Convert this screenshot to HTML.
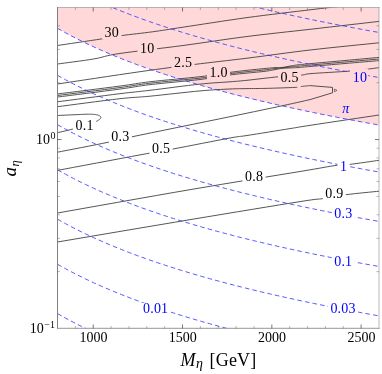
<!DOCTYPE html>
<html><head><meta charset="utf-8"><title>plot</title>
<style>html,body{margin:0;padding:0;background:#fff;}body{width:382px;height:374px;overflow:hidden;font-family:"Liberation Serif",serif;}svg{display:block;will-change:transform;}</style>
</head><body>
<svg width="382" height="374" viewBox="0 0 382 374" font-family="'Liberation Serif', serif">
<defs><clipPath id="clip"><rect x="57.5" y="7.5" width="321.5" height="321.0"/></clipPath></defs>
<path d="M57.50 7.50 L57.50 28.32 L61.50 30.59 L65.50 32.79 L69.50 34.94 L73.50 37.03 L77.50 39.07 L81.50 41.06 L85.50 43.00 L89.50 44.90 L93.50 46.76 L97.50 48.57 L101.50 50.35 L105.50 52.09 L109.50 53.79 L113.50 55.45 L117.50 57.09 L121.50 58.69 L125.50 60.26 L129.50 61.80 L133.50 63.32 L137.50 64.80 L141.50 66.26 L145.50 67.70 L149.50 69.11 L153.50 70.49 L157.50 71.85 L161.50 73.19 L165.50 74.51 L169.50 75.81 L173.50 77.09 L177.50 78.35 L181.50 79.59 L185.50 80.81 L189.50 82.01 L193.50 83.19 L197.50 84.36 L201.50 85.52 L205.50 86.65 L209.50 87.77 L213.50 88.88 L217.50 89.97 L221.50 91.04 L225.50 92.11 L229.50 93.16 L233.50 94.19 L237.50 95.22 L241.50 96.23 L245.50 97.22 L249.50 98.21 L253.50 99.18 L257.50 100.15 L261.50 101.10 L265.50 102.04 L269.50 102.97 L273.50 103.89 L277.50 104.80 L281.50 105.70 L285.50 106.59 L289.50 107.47 L293.50 108.34 L297.50 109.20 L301.50 110.05 L305.50 110.90 L309.50 111.73 L313.50 112.56 L317.50 113.38 L321.50 114.19 L325.50 114.99 L329.50 115.79 L333.50 116.57 L337.50 117.35 L341.50 118.13 L345.50 118.89 L349.50 119.65 L353.50 120.40 L357.50 121.15 L361.50 121.88 L365.50 122.61 L369.50 123.34 L373.50 124.06 L377.50 124.77 L379.00 125.03 L379.00 7.50 Z" fill="#ffd9d9" stroke="none"/>
<g fill="none" stroke="#383838" stroke-width="0.85" stroke-linejoin="miter" clip-path="url(#clip)">
<path d="M57.50 45.50 L61.01 44.98 L65.86 44.26 L71.64 43.40 L77.97 42.46 L84.46 41.50 L90.72 40.56 L96.37 39.71 L101.00 39.00 L104.59 38.43 L107.50 37.94 L109.91 37.52 L112.03 37.13 L114.05 36.77 L116.18 36.41 L118.59 36.02 L121.50 35.60 L124.88 35.15 L128.52 34.70 L132.38 34.24 L136.38 33.78 L140.45 33.30 L144.54 32.82 L148.58 32.32 L152.50 31.80 L156.11 31.30 L159.38 30.82 L162.50 30.35 L165.69 29.86 L169.13 29.33 L173.03 28.72 L177.59 28.02 L183.00 27.20 L189.40 26.23 L196.64 25.11 L204.55 23.89 L212.91 22.61 L221.53 21.30 L230.21 20.00 L238.77 18.75 L247.00 17.60 L255.26 16.50 L263.89 15.39 L272.67 14.30 L281.38 13.24 L289.78 12.23 L297.67 11.29 L304.82 10.44 L311.00 9.70 L316.19 9.07 L320.59 8.55 L324.32 8.12 L327.50 7.75 L330.24 7.44 L332.66 7.17 L334.87 6.93 L337.00 6.70 L338.92 6.50 L340.45 6.35 L341.67 6.24 L342.62 6.16 L343.38 6.11 L343.98 6.07 L344.51 6.04 L345.00 6.00"/>
<path d="M57.50 64.00 L60.35 63.62 L64.21 63.11 L68.82 62.51 L73.91 61.84 L79.19 61.12 L84.39 60.40 L89.26 59.68 L93.50 59.00 L96.93 58.36 L99.71 57.74 L102.14 57.12 L104.50 56.49 L107.08 55.84 L110.16 55.15 L114.04 54.41 L119.00 53.60 L125.16 52.72 L132.29 51.79 L140.18 50.80 L148.59 49.78 L157.31 48.72 L166.10 47.65 L174.74 46.57 L183.00 45.50 L191.00 44.41 L199.00 43.27 L207.00 42.12 L215.00 40.95 L223.00 39.79 L231.00 38.65 L239.00 37.55 L247.00 36.50 L254.97 35.51 L262.90 34.57 L270.82 33.66 L278.74 32.77 L286.70 31.90 L294.71 31.02 L302.80 30.12 L311.00 29.20 L319.78 28.20 L329.33 27.10 L339.23 25.97 L349.05 24.84 L358.37 23.78 L366.77 22.81 L373.82 22.01 L379.10 21.40"/>
<path d="M57.50 84.00 L64.06 83.02 L72.99 81.67 L83.65 80.06 L95.38 78.30 L107.52 76.48 L119.45 74.70 L130.49 73.08 L140.00 71.70 L148.12 70.55 L155.53 69.52 L162.38 68.59 L168.84 67.72 L175.08 66.91 L181.24 66.12 L187.49 65.32 L194.00 64.50 L200.60 63.68 L207.06 62.91 L213.46 62.16 L219.88 61.42 L226.36 60.67 L233.00 59.89 L239.86 59.08 L247.00 58.20 L254.45 57.25 L262.13 56.24 L270.01 55.18 L278.06 54.10 L286.22 53.01 L294.45 51.94 L302.73 50.89 L311.00 49.90 L319.78 48.91 L329.33 47.87 L339.23 46.84 L349.05 45.83 L358.37 44.89 L366.77 44.05 L373.82 43.34 L379.10 42.80"/>
<path d="M57.50 93.95 L62.45 93.33 L69.27 92.48 L77.40 91.47 L86.31 90.35 L95.47 89.21 L104.33 88.09 L112.35 87.06 L119.00 86.20 L124.20 85.49 L128.45 84.87 L132.02 84.32 L135.22 83.81 L138.32 83.32 L141.63 82.83 L145.42 82.31 L150.00 81.75 L155.48 81.14 L161.63 80.51 L168.24 79.87 L175.06 79.22 L181.88 78.57 L188.46 77.92 L194.58 77.30 L200.00 76.70 L204.80 76.11 L209.21 75.52 L213.29 74.94 L217.06 74.37 L220.58 73.82 L223.88 73.30 L227.01 72.83 L230.00 72.40 L232.74 72.03 L235.14 71.71 L237.28 71.44 L239.25 71.19 L241.12 70.97 L242.98 70.75 L244.92 70.53 L247.00 70.30 L249.26 70.05 L251.62 69.81 L254.03 69.56 L256.44 69.32 L258.79 69.10 L261.04 68.88 L263.13 68.68 L265.00 68.50 L266.65 68.34 L268.13 68.19 L269.47 68.06 L270.69 67.95 L271.82 67.84 L272.90 67.75 L273.95 67.67 L275.00 67.60 L276.01 67.55 L276.94 67.54 L277.80 67.54 L278.62 67.55 L279.43 67.56 L280.25 67.55 L281.10 67.52 L282.00 67.45 L282.95 67.34 L283.93 67.19 L284.93 67.03 L285.94 66.84 L286.96 66.65 L287.98 66.46 L288.99 66.27 L290.00 66.10 L290.97 65.94 L291.88 65.78 L292.78 65.62 L293.69 65.47 L294.63 65.31 L295.65 65.16 L296.76 65.01 L298.00 64.85 L299.24 64.71 L300.41 64.58 L301.59 64.46 L302.88 64.34 L304.37 64.20 L306.16 64.04 L308.34 63.84 L311.00 63.60 L314.24 63.30 L318.02 62.96 L322.21 62.57 L326.68 62.17 L331.32 61.74 L336.00 61.32 L340.60 60.90 L345.00 60.50 L349.49 60.09 L354.32 59.65 L359.28 59.20 L364.18 58.76 L368.81 58.34 L372.97 57.96 L376.47 57.64 L379.10 57.40"/>
<path d="M57.50 95.50 L62.45 94.88 L69.27 94.02 L77.40 93.00 L86.31 91.88 L95.47 90.73 L104.33 89.60 L112.35 88.57 L119.00 87.70 L124.20 86.98 L128.45 86.36 L132.02 85.80 L135.22 85.28 L138.32 84.79 L141.63 84.29 L145.42 83.77 L150.00 83.20 L155.48 82.59 L161.63 81.95 L168.24 81.30 L175.06 80.64 L181.88 79.99 L188.46 79.34 L194.58 78.71 L200.00 78.10 L204.80 77.50 L209.21 76.89 L213.29 76.29 L217.06 75.71 L220.58 75.14 L223.88 74.61 L227.01 74.13 L230.00 73.70 L232.74 73.33 L235.14 73.03 L237.28 72.77 L239.25 72.54 L241.12 72.33 L242.98 72.13 L244.92 71.92 L247.00 71.70 L249.26 71.46 L251.62 71.22 L254.03 70.99 L256.44 70.76 L258.79 70.53 L261.04 70.31 L263.13 70.10 L265.00 69.90 L266.65 69.71 L268.13 69.53 L269.47 69.35 L270.69 69.18 L271.82 69.02 L272.90 68.87 L273.95 68.73 L275.00 68.60 L276.01 68.49 L276.94 68.39 L277.80 68.30 L278.62 68.23 L279.43 68.15 L280.25 68.08 L281.10 67.99 L282.00 67.90 L282.95 67.80 L283.93 67.69 L284.93 67.57 L285.94 67.46 L286.96 67.34 L287.98 67.22 L288.99 67.11 L290.00 67.00 L290.97 66.90 L291.88 66.80 L292.78 66.71 L293.69 66.62 L294.63 66.52 L295.65 66.43 L296.76 66.32 L298.00 66.20 L299.24 66.08 L300.41 65.97 L301.59 65.86 L302.88 65.74 L304.37 65.60 L306.16 65.44 L308.34 65.24 L311.00 65.00 L314.24 64.71 L318.02 64.38 L322.21 64.01 L326.68 63.61 L331.32 63.20 L336.00 62.79 L340.60 62.39 L345.00 62.00 L349.49 61.60 L354.32 61.18 L359.28 60.74 L364.18 60.31 L368.81 59.91 L372.97 59.54 L376.47 59.23 L379.10 59.00"/>
<path d="M57.50 97.05 L62.45 96.42 L69.27 95.56 L77.40 94.54 L86.31 93.41 L95.47 92.25 L104.33 91.11 L112.35 90.08 L119.00 89.20 L124.20 88.48 L128.45 87.84 L132.02 87.28 L135.22 86.76 L138.32 86.26 L141.63 85.75 L145.42 85.22 L150.00 84.65 L155.48 84.03 L161.63 83.39 L168.24 82.73 L175.06 82.07 L181.88 81.41 L188.46 80.76 L194.58 80.12 L200.00 79.50 L204.80 78.89 L209.21 78.27 L213.29 77.65 L217.06 77.05 L220.58 76.47 L223.88 75.93 L227.01 75.43 L230.00 75.00 L232.74 74.64 L235.14 74.34 L237.28 74.09 L239.25 73.88 L241.12 73.69 L242.98 73.51 L244.92 73.31 L247.00 73.10 L249.26 72.87 L251.62 72.64 L254.03 72.41 L256.44 72.19 L258.79 71.96 L261.04 71.74 L263.13 71.52 L265.00 71.30 L266.65 71.08 L268.13 70.86 L269.47 70.64 L270.69 70.42 L271.82 70.20 L272.90 69.99 L273.95 69.79 L275.00 69.60 L276.01 69.42 L276.94 69.24 L277.80 69.06 L278.62 68.90 L279.43 68.74 L280.25 68.60 L281.10 68.46 L282.00 68.35 L282.95 68.25 L283.93 68.18 L284.93 68.12 L285.94 68.07 L286.96 68.03 L287.98 67.99 L288.99 67.95 L290.00 67.90 L290.97 67.86 L291.88 67.82 L292.78 67.80 L293.69 67.77 L294.63 67.74 L295.65 67.69 L296.76 67.63 L298.00 67.55 L299.24 67.46 L300.41 67.36 L301.59 67.25 L302.88 67.13 L304.37 66.99 L306.16 66.83 L308.34 66.63 L311.00 66.40 L314.24 66.12 L318.02 65.80 L322.21 65.44 L326.68 65.06 L331.32 64.66 L336.00 64.27 L340.60 63.87 L345.00 63.50 L349.49 63.12 L354.32 62.71 L359.28 62.29 L364.18 61.87 L368.81 61.48 L372.97 61.12 L376.47 60.82 L379.10 60.60"/>
<path d="M57.50 101.80 L62.45 101.15 L69.27 100.26 L77.40 99.19 L86.31 98.02 L95.47 96.82 L104.33 95.67 L112.35 94.64 L119.00 93.80 L124.20 93.17 L128.45 92.67 L132.02 92.28 L135.22 91.94 L138.32 91.61 L141.63 91.26 L145.42 90.84 L150.00 90.30 L155.48 89.63 L161.63 88.85 L168.24 88.00 L175.06 87.12 L181.88 86.26 L188.46 85.44 L194.58 84.71 L200.00 84.10 L204.80 83.62 L209.21 83.23 L213.29 82.92 L217.06 82.66 L220.58 82.43 L223.88 82.23 L227.01 82.02 L230.00 81.80 L232.65 81.59 L234.84 81.42 L236.71 81.27 L238.44 81.12 L240.17 80.97 L242.07 80.80 L244.29 80.58 L247.00 80.30 L250.26 79.95 L253.94 79.52 L257.93 79.05 L262.09 78.56 L266.31 78.07 L270.45 77.60 L274.39 77.17 L278.00 76.80 L281.39 76.50 L284.73 76.24 L287.98 76.02 L291.09 75.82 L294.04 75.64 L296.79 75.47 L299.28 75.29 L301.50 75.10 L303.17 74.91 L304.21 74.73 L304.88 74.56 L305.41 74.39 L306.04 74.22 L307.02 74.03 L308.59 73.83 L311.00 73.60 L314.42 73.34 L318.70 73.06 L323.58 72.76 L328.81 72.44 L334.12 72.12 L339.26 71.81 L343.97 71.50 L348.00 71.20 L351.43 70.91 L354.54 70.62 L357.37 70.33 L359.96 70.04 L362.34 69.76 L364.54 69.49 L366.62 69.24 L368.60 69.00 L370.47 68.78 L372.18 68.56 L373.74 68.35 L375.14 68.16 L376.38 67.99 L377.45 67.83 L378.36 67.70 L379.10 67.60"/>
<path d="M57.50 106.70 L62.45 106.05 L69.27 105.16 L77.40 104.08 L86.31 102.91 L95.47 101.72 L104.33 100.59 L112.35 99.59 L119.00 98.80 L124.20 98.24 L128.45 97.84 L132.02 97.56 L135.22 97.34 L138.32 97.14 L141.63 96.92 L145.42 96.62 L150.00 96.20 L155.48 95.64 L161.63 94.99 L168.24 94.26 L175.06 93.51 L181.88 92.76 L188.46 92.05 L194.58 91.42 L200.00 90.90 L204.80 90.49 L209.21 90.15 L213.29 89.87 L217.06 89.64 L220.58 89.45 L223.88 89.29 L227.01 89.14 L230.00 89.00 L232.74 88.88 L235.14 88.79 L237.28 88.73 L239.25 88.69 L241.12 88.67 L242.98 88.65 L244.92 88.63 L247.00 88.60 L249.19 88.57 L251.38 88.55 L253.59 88.53 L255.81 88.51 L258.06 88.50 L260.34 88.47 L262.65 88.44 L265.00 88.40 L267.46 88.34 L270.04 88.28 L272.69 88.20 L275.36 88.12 L277.98 88.04 L280.49 87.95 L282.85 87.87 L285.00 87.80 L286.99 87.73 L288.90 87.66 L290.72 87.58 L292.40 87.51 L293.93 87.45 L295.27 87.39 L296.40 87.34 L297.30 87.30"/>
<path d="M57.50 115.50 L58.88 115.44 L60.74 115.35 L62.96 115.25 L65.41 115.13 L67.96 115.01 L70.50 114.90 L72.88 114.79 L75.00 114.70 L76.93 114.62 L78.82 114.54 L80.66 114.46 L82.44 114.38 L84.13 114.32 L85.71 114.26 L87.17 114.22 L88.50 114.20 L89.66 114.19 L90.68 114.20 L91.56 114.22 L92.34 114.26 L93.05 114.30 L93.71 114.36 L94.35 114.42 L95.00 114.50 L95.63 114.59 L96.23 114.68 L96.78 114.79 L97.29 114.91 L97.77 115.04 L98.21 115.18 L98.62 115.34 L99.00 115.50 L99.35 115.68 L99.67 115.87 L99.96 116.07 L100.21 116.29 L100.43 116.51 L100.60 116.74 L100.72 116.97 L100.80 117.20 L100.83 117.43 L100.81 117.67 L100.75 117.91 L100.65 118.16 L100.50 118.41 L100.31 118.66 L100.08 118.93 L99.80 119.20 L99.46 119.48 L99.05 119.78 L98.59 120.09 L98.09 120.41 L97.56 120.72 L97.03 121.03 L96.50 121.32 L96.00 121.60 L95.60 121.84 L95.32 122.04 L95.09 122.21 L94.83 122.39 L94.46 122.58 L93.92 122.82 L93.12 123.12 L92.00 123.50 L90.50 123.98 L88.68 124.55 L86.60 125.18 L84.34 125.86 L81.98 126.55 L79.59 127.23 L77.24 127.89 L75.00 128.50 L72.72 129.09 L70.25 129.70 L67.71 130.32 L65.19 130.91 L62.80 131.47 L60.66 131.96 L58.85 132.38 L57.50 132.70"/>
<path d="M57.50 170.40 L64.20 169.14 L73.48 167.39 L84.57 165.30 L96.69 163.02 L109.06 160.69 L120.92 158.46 L131.49 156.48 L140.00 154.90 L146.33 153.74 L151.17 152.87 L154.95 152.21 L158.09 151.67 L161.04 151.16 L164.22 150.61 L168.06 149.92 L173.00 149.00 L179.25 147.81 L186.50 146.41 L194.38 144.88 L202.50 143.29 L210.50 141.73 L218.00 140.27 L224.62 139.00 L230.00 138.00 L233.86 137.31 L236.45 136.88 L238.16 136.63 L239.38 136.49 L240.48 136.39 L241.86 136.24 L243.90 135.96 L247.00 135.50 L251.28 134.82 L256.44 134.00 L262.19 133.08 L268.25 132.11 L274.34 131.12 L280.19 130.18 L285.50 129.33 L290.00 128.60 L293.36 128.05 L295.69 127.66 L297.42 127.37 L298.93 127.11 L300.64 126.82 L302.95 126.45 L306.27 125.93 L311.00 125.20 L317.72 124.18 L326.31 122.89 L336.08 121.42 L346.36 119.89 L356.48 118.38 L365.76 116.99 L373.52 115.83 L379.10 115.00"/>
<path d="M57.50 213.00 L67.97 211.15 L82.06 208.65 L98.86 205.67 L117.44 202.38 L136.87 198.94 L156.22 195.54 L174.57 192.33 L191.00 189.50 L206.30 186.91 L221.68 184.33 L236.88 181.82 L251.59 179.41 L265.55 177.14 L278.46 175.03 L290.04 173.14 L300.00 171.50 L308.15 170.13 L314.67 169.02 L319.86 168.11 L324.00 167.38 L327.39 166.78 L330.33 166.28 L333.10 165.83 L336.00 165.40 L338.61 165.06 L340.47 164.89 L341.81 164.83 L342.87 164.83 L343.88 164.85 L345.09 164.84 L346.71 164.73 L349.00 164.50 L352.15 164.10 L356.03 163.58 L360.36 162.98 L364.86 162.34 L369.27 161.71 L373.29 161.13 L376.66 160.65 L379.10 160.30"/>
<path d="M57.50 242.00 L67.97 240.23 L82.06 237.85 L98.86 235.01 L117.44 231.87 L136.87 228.59 L156.22 225.33 L174.57 222.25 L191.00 219.50 L206.39 216.94 L221.99 214.35 L237.45 211.80 L252.41 209.33 L266.50 207.02 L279.37 204.92 L290.66 203.09 L300.00 201.60 L306.99 200.52 L311.80 199.82 L314.92 199.42 L316.88 199.22 L318.15 199.14 L319.27 199.06 L320.71 198.92 L323.00 198.60 L325.81 198.15 L328.51 197.68 L331.18 197.19 L333.87 196.68 L336.64 196.17 L339.54 195.67 L342.64 195.17 L346.00 194.70 L349.88 194.22 L354.34 193.71 L359.13 193.20 L363.99 192.71 L368.67 192.24 L372.92 191.82 L376.48 191.47 L379.10 191.20"/>
<path d="M310.00 85.60 L332.50 87.40 L332.50 92.80 L310.00 99.60"/>
<path d="M310.00 99.60 L308.09 100.03 L305.76 100.56 L303.00 101.19 L299.81 101.91 L296.22 102.71 L292.21 103.60 L287.80 104.56 L283.00 105.60 L277.93 106.68 L272.66 107.80 L267.05 108.98 L261.00 110.26 L254.39 111.64 L247.09 113.16 L239.00 114.84 L230.00 116.70 L219.31 118.90 L206.70 121.48 L192.90 124.30 L178.62 127.21 L164.58 130.08 L151.48 132.76 L140.05 135.12 L131.00 137.00 L124.68 138.35 L120.55 139.27 L118.02 139.88 L116.47 140.30 L115.30 140.63 L113.90 141.00 L111.67 141.52 L108.00 142.30 L102.66 143.39 L96.12 144.68 L88.86 146.11 L81.31 147.58 L73.95 149.01 L67.22 150.31 L61.58 151.40 L57.50 152.20"/>
<path d="M334.30 89.10 L337.00 90.30 L334.60 91.80 L334.30 89.10" stroke-width="0.6"/>
<path d="M300.80 86.60 L301.12 86.56 L301.54 86.51 L302.03 86.45 L302.59 86.38 L303.18 86.31 L303.80 86.24 L304.41 86.17 L305.00 86.10 L305.62 86.03 L306.31 85.96 L307.04 85.89 L307.76 85.82 L308.46 85.75 L309.08 85.69 L309.61 85.64 L310.00 85.60"/>
</g>
<g fill="none" stroke="#3a3aff" stroke-width="0.85" stroke-dasharray="4.6 3.1" clip-path="url(#clip)">
<path d="M57.50 -64.26 L61.50 -61.99 L65.50 -59.79 L69.50 -57.64 L73.50 -55.55 L77.50 -53.51 L81.50 -51.52 L85.50 -49.57 L89.50 -47.67 L93.50 -45.82 L97.50 -44.00 L101.50 -42.23 L105.50 -40.49 L109.50 -38.79 L113.50 -37.12 L117.50 -35.49 L121.50 -33.89 L125.50 -32.32 L129.50 -30.77 L133.50 -29.26 L137.50 -27.77 L141.50 -26.31 L145.50 -24.88 L149.50 -23.47 L153.50 -22.09 L157.50 -20.72 L161.50 -19.38 L165.50 -18.06 L169.50 -16.77 L173.50 -15.49 L177.50 -14.23 L181.50 -12.99 L185.50 -11.77 L189.50 -10.57 L193.50 -9.38 L197.50 -8.21 L201.50 -7.06 L205.50 -5.93 L209.50 -4.80 L213.50 -3.70 L217.50 -2.61 L221.50 -1.53 L225.50 -0.47 L229.50 0.58 L233.50 1.62 L237.50 2.64 L241.50 3.65 L245.50 4.65 L249.50 5.63 L253.50 6.61 L257.50 7.57 L261.50 8.52 L265.50 9.46 L269.50 10.39 L273.50 11.31 L277.50 12.22 L281.50 13.12 L285.50 14.01 L289.50 14.89 L293.50 15.76 L297.50 16.62 L301.50 17.48 L305.50 18.32 L309.50 19.16 L313.50 19.98 L317.50 20.80 L321.50 21.61 L325.50 22.41 L329.50 23.21 L333.50 24.00 L337.50 24.78 L341.50 25.55 L345.50 26.31 L349.50 27.07 L353.50 27.82 L357.50 28.57 L361.50 29.31 L365.50 30.04 L369.50 30.76 L373.50 31.48 L377.50 32.19 L379.00 32.46"/>
<path d="M57.50 -19.18 L61.50 -16.92 L65.50 -14.71 L69.50 -12.57 L73.50 -10.47 L77.50 -8.43 L81.50 -6.44 L85.50 -4.50 L89.50 -2.60 L93.50 -0.75 L97.50 1.07 L101.50 2.84 L105.50 4.58 L109.50 6.28 L113.50 7.95 L117.50 9.58 L121.50 11.19 L125.50 12.76 L129.50 14.30 L133.50 15.81 L137.50 17.30 L141.50 18.76 L145.50 20.19 L149.50 21.60 L153.50 22.99 L157.50 24.35 L161.50 25.69 L165.50 27.01 L169.50 28.31 L173.50 29.58 L177.50 30.84 L181.50 32.08 L185.50 33.30 L189.50 34.51 L193.50 35.69 L197.50 36.86 L201.50 38.01 L205.50 39.15 L209.50 40.27 L213.50 41.37 L217.50 42.46 L221.50 43.54 L225.50 44.60 L229.50 45.65 L233.50 46.69 L237.50 47.71 L241.50 48.72 L245.50 49.72 L249.50 50.71 L253.50 51.68 L257.50 52.64 L261.50 53.59 L265.50 54.54 L269.50 55.47 L273.50 56.38 L277.50 57.29 L281.50 58.19 L285.50 59.08 L289.50 59.96 L293.50 60.83 L297.50 61.70 L301.50 62.55 L305.50 63.39 L309.50 64.23 L313.50 65.06 L317.50 65.87 L321.50 66.69 L325.50 67.49 L329.50 68.28 L333.50 69.07 L337.50 69.85 L341.50 70.62 L345.50 71.39 L349.50 72.15 L353.50 72.90 L357.50 73.64 L361.50 74.38 L365.50 75.11 L369.50 75.84 L373.50 76.55 L377.50 77.27 L379.00 77.53"/>
<path d="M57.50 28.32 L61.50 30.59 L65.50 32.79 L69.50 34.94 L73.50 37.03 L77.50 39.07 L81.50 41.06 L85.50 43.00 L89.50 44.90 L93.50 46.76 L97.50 48.57 L101.50 50.35 L105.50 52.09 L109.50 53.79 L113.50 55.45 L117.50 57.09 L121.50 58.69 L125.50 60.26 L129.50 61.80 L133.50 63.32 L137.50 64.80 L141.50 66.26 L145.50 67.70 L149.50 69.11 L153.50 70.49 L157.50 71.85 L161.50 73.19 L165.50 74.51 L169.50 75.81 L173.50 77.09 L177.50 78.35 L181.50 79.59 L185.50 80.81 L189.50 82.01 L193.50 83.19 L197.50 84.36 L201.50 85.52 L205.50 86.65 L209.50 87.77 L213.50 88.88 L217.50 89.97 L221.50 91.04 L225.50 92.11 L229.50 93.16 L233.50 94.19 L237.50 95.22 L241.50 96.23 L245.50 97.22 L249.50 98.21 L253.50 99.18 L257.50 100.15 L261.50 101.10 L265.50 102.04 L269.50 102.97 L273.50 103.89 L277.50 104.80 L281.50 105.70 L285.50 106.59 L289.50 107.47 L293.50 108.34 L297.50 109.20 L301.50 110.05 L305.50 110.90 L309.50 111.73 L313.50 112.56 L317.50 113.38 L321.50 114.19 L325.50 114.99 L329.50 115.79 L333.50 116.57 L337.50 117.35 L341.50 118.13 L345.50 118.89 L349.50 119.65 L353.50 120.40 L357.50 121.15 L361.50 121.88 L365.50 122.61 L369.50 123.34 L373.50 124.06 L377.50 124.77 L379.00 125.04"/>
<path d="M57.50 75.29 L61.50 77.55 L65.50 79.76 L69.50 81.90 L73.50 84.00 L77.50 86.04 L81.50 88.03 L85.50 89.97 L89.50 91.87 L93.50 93.72 L97.50 95.54 L101.50 97.31 L105.50 99.05 L109.50 100.75 L113.50 102.42 L117.50 104.05 L121.50 105.66 L125.50 107.23 L129.50 108.77 L133.50 110.28 L137.50 111.77 L141.50 113.23 L145.50 114.66 L149.50 116.07 L153.50 117.46 L157.50 118.82 L161.50 120.16 L165.50 121.48 L169.50 122.78 L173.50 124.05 L177.50 125.31 L181.50 126.55 L185.50 127.77 L189.50 128.97 L193.50 130.16 L197.50 131.33 L201.50 132.48 L205.50 133.62 L209.50 134.74 L213.50 135.84 L217.50 136.93 L221.50 138.01 L225.50 139.07 L229.50 140.12 L233.50 141.16 L237.50 142.18 L241.50 143.19 L245.50 144.19 L249.50 145.17 L253.50 146.15 L257.50 147.11 L261.50 148.06 L265.50 149.00 L269.50 149.93 L273.50 150.85 L277.50 151.76 L281.50 152.66 L285.50 153.55 L289.50 154.43 L293.50 155.30 L297.50 156.17 L301.50 157.02 L305.50 157.86 L309.50 158.70 L313.50 159.52 L317.50 160.34 L321.50 161.15 L325.50 161.96 L329.50 162.75 L333.50 163.54 L337.50 164.32 L341.50 165.09 L345.50 165.86 L349.50 166.61 L353.50 167.37 L357.50 168.11 L361.50 168.85 L365.50 169.58 L369.50 170.30 L373.50 171.02 L377.50 171.73 L379.00 172.00"/>
<path d="M57.50 124.68 L61.50 126.95 L65.50 129.15 L69.50 131.30 L73.50 133.39 L77.50 135.43 L81.50 137.42 L85.50 139.37 L89.50 141.26 L93.50 143.12 L97.50 144.93 L101.50 146.71 L105.50 148.45 L109.50 150.15 L113.50 151.82 L117.50 153.45 L121.50 155.05 L125.50 156.62 L129.50 158.16 L133.50 159.68 L137.50 161.16 L141.50 162.62 L145.50 164.06 L149.50 165.47 L153.50 166.85 L157.50 168.21 L161.50 169.56 L165.50 170.87 L169.50 172.17 L173.50 173.45 L177.50 174.71 L181.50 175.95 L185.50 177.17 L189.50 178.37 L193.50 179.56 L197.50 180.72 L201.50 181.88 L205.50 183.01 L209.50 184.13 L213.50 185.24 L217.50 186.33 L221.50 187.41 L225.50 188.47 L229.50 189.52 L233.50 190.55 L237.50 191.58 L241.50 192.59 L245.50 193.58 L249.50 194.57 L253.50 195.54 L257.50 196.51 L261.50 197.46 L265.50 198.40 L269.50 199.33 L273.50 200.25 L277.50 201.16 L281.50 202.06 L285.50 202.95 L289.50 203.83 L293.50 204.70 L297.50 205.56 L301.50 206.41 L305.50 207.26 L309.50 208.09 L313.50 208.92 L317.50 209.74 L321.50 210.55 L325.50 211.35 L329.50 212.15 L333.50 212.93 L337.50 213.71 L341.50 214.49 L345.50 215.25 L349.50 216.01 L353.50 216.76 L357.50 217.51 L361.50 218.24 L365.50 218.98 L369.50 219.70 L373.50 220.42 L377.50 221.13 L379.00 221.40"/>
<path d="M57.50 169.76 L61.50 172.02 L65.50 174.23 L69.50 176.37 L73.50 178.46 L77.50 180.50 L81.50 182.49 L85.50 184.44 L89.50 186.34 L93.50 188.19 L97.50 190.01 L101.50 191.78 L105.50 193.52 L109.50 195.22 L113.50 196.89 L117.50 198.52 L121.50 200.12 L125.50 201.70 L129.50 203.24 L133.50 204.75 L137.50 206.24 L141.50 207.70 L145.50 209.13 L149.50 210.54 L153.50 211.93 L157.50 213.29 L161.50 214.63 L165.50 215.95 L169.50 217.25 L173.50 218.52 L177.50 219.78 L181.50 221.02 L185.50 222.24 L189.50 223.44 L193.50 224.63 L197.50 225.80 L201.50 226.95 L205.50 228.09 L209.50 229.21 L213.50 230.31 L217.50 231.40 L221.50 232.48 L225.50 233.54 L229.50 234.59 L233.50 235.63 L237.50 236.65 L241.50 237.66 L245.50 238.66 L249.50 239.64 L253.50 240.62 L257.50 241.58 L261.50 242.53 L265.50 243.47 L269.50 244.40 L273.50 245.32 L277.50 246.23 L281.50 247.13 L285.50 248.02 L289.50 248.90 L293.50 249.77 L297.50 250.63 L301.50 251.49 L305.50 252.33 L309.50 253.17 L313.50 253.99 L317.50 254.81 L321.50 255.62 L325.50 256.43 L329.50 257.22 L333.50 258.01 L337.50 258.79 L341.50 259.56 L345.50 260.33 L349.50 261.08 L353.50 261.84 L357.50 262.58 L361.50 263.32 L365.50 264.05 L369.50 264.77 L373.50 265.49 L377.50 266.20 L379.00 266.47"/>
<path d="M57.50 219.15 L61.50 221.42 L65.50 223.62 L69.50 225.77 L73.50 227.86 L77.50 229.90 L81.50 231.89 L85.50 233.83 L89.50 235.73 L93.50 237.59 L97.50 239.40 L101.50 241.18 L105.50 242.92 L109.50 244.62 L113.50 246.28 L117.50 247.92 L121.50 249.52 L125.50 251.09 L129.50 252.63 L133.50 254.15 L137.50 255.63 L141.50 257.09 L145.50 258.53 L149.50 259.94 L153.50 261.32 L157.50 262.68 L161.50 264.02 L165.50 265.34 L169.50 266.64 L173.50 267.92 L177.50 269.18 L181.50 270.42 L185.50 271.64 L189.50 272.84 L193.50 274.02 L197.50 275.19 L201.50 276.35 L205.50 277.48 L209.50 278.60 L213.50 279.71 L217.50 280.80 L221.50 281.87 L225.50 282.94 L229.50 283.99 L233.50 285.02 L237.50 286.05 L241.50 287.06 L245.50 288.05 L249.50 289.04 L253.50 290.01 L257.50 290.98 L261.50 291.93 L265.50 292.87 L269.50 293.80 L273.50 294.72 L277.50 295.63 L281.50 296.53 L285.50 297.42 L289.50 298.30 L293.50 299.17 L297.50 300.03 L301.50 300.88 L305.50 301.73 L309.50 302.56 L313.50 303.39 L317.50 304.21 L321.50 305.02 L325.50 305.82 L329.50 306.62 L333.50 307.40 L337.50 308.18 L341.50 308.96 L345.50 309.72 L349.50 310.48 L353.50 311.23 L357.50 311.98 L361.50 312.71 L365.50 313.44 L369.50 314.17 L373.50 314.89 L377.50 315.60 L379.00 315.87"/>
<path d="M57.50 264.22 L61.50 266.49 L65.50 268.69 L69.50 270.84 L73.50 272.93 L77.50 274.97 L81.50 276.96 L85.50 278.91 L89.50 280.81 L93.50 282.66 L97.50 284.48 L101.50 286.25 L105.50 287.99 L109.50 289.69 L113.50 291.36 L117.50 292.99 L121.50 294.59 L125.50 296.16 L129.50 297.71 L133.50 299.22 L137.50 300.71 L141.50 302.17 L145.50 303.60 L149.50 305.01 L153.50 306.39 L157.50 307.76 L161.50 309.10 L165.50 310.42 L169.50 311.71 L173.50 312.99 L177.50 314.25 L181.50 315.49 L185.50 316.71 L189.50 317.91 L193.50 319.10 L197.50 320.27 L201.50 321.42 L205.50 322.55 L209.50 323.68 L213.50 324.78 L217.50 325.87 L221.50 326.95 L225.50 328.01 L229.50 329.06 L233.50 330.10 L237.50 331.12 L241.50 332.13 L245.50 333.13 L249.50 334.11 L253.50 335.09 L257.50 336.05 L261.50 337.00 L265.50 337.94 L269.50 338.87 L273.50 339.79 L277.50 340.70 L281.50 341.60 L285.50 342.49 L289.50 343.37 L293.50 344.24 L297.50 345.10 L301.50 345.96 L305.50 346.80 L309.50 347.64 L313.50 348.46 L317.50 349.28 L321.50 350.09 L325.50 350.89 L329.50 351.69 L333.50 352.48 L337.50 353.26 L341.50 354.03 L345.50 354.79 L349.50 355.55 L353.50 356.30 L357.50 357.05 L361.50 357.79 L365.50 358.52 L369.50 359.24 L373.50 359.96 L377.50 360.67 L379.00 360.94"/>
<path d="M57.50 313.62 L61.50 315.89 L65.50 318.09 L69.50 320.24 L73.50 322.33 L77.50 324.37 L81.50 326.36 L85.50 328.30 L89.50 330.20 L93.50 332.06 L97.50 333.87 L101.50 335.65 L105.50 337.38 L109.50 339.09 L113.50 340.75 L117.50 342.39 L121.50 343.99 L125.50 345.56 L129.50 347.10 L133.50 348.62 L137.50 350.10 L141.50 351.56 L145.50 353.00 L149.50 354.40 L153.50 355.79 L157.50 357.15 L161.50 358.49 L165.50 359.81 L169.50 361.11 L173.50 362.39 L177.50 363.65 L181.50 364.88 L185.50 366.11 L189.50 367.31 L193.50 368.49 L197.50 369.66 L201.50 370.81 L205.50 371.95 L209.50 373.07 L213.50 374.18 L217.50 375.27 L221.50 376.34 L225.50 377.41 L229.50 378.46 L233.50 379.49 L237.50 380.51 L241.50 381.52 L245.50 382.52 L249.50 383.51 L253.50 384.48 L257.50 385.45 L261.50 386.40 L265.50 387.34 L269.50 388.27 L273.50 389.19 L277.50 390.10 L281.50 391.00 L285.50 391.89 L289.50 392.77 L293.50 393.64 L297.50 394.50 L301.50 395.35 L305.50 396.20 L309.50 397.03 L313.50 397.86 L317.50 398.68 L321.50 399.49 L325.50 400.29 L329.50 401.09 L333.50 401.87 L337.50 402.65 L341.50 403.43 L345.50 404.19 L349.50 404.95 L353.50 405.70 L357.50 406.44 L361.50 407.18 L365.50 407.91 L369.50 408.64 L373.50 409.36 L377.50 410.07 L379.00 410.33"/>
</g>
<rect x="102.1" y="26.9" width="19.4" height="12.6" fill="#ffd9d9"/>
<text x="104.6" y="37.0" font-size="14" fill="#000" letter-spacing="0.2">30</text>
<rect x="137.5" y="42.9" width="19.4" height="12.6" fill="#ffd9d9"/>
<text x="140.0" y="53.0" font-size="14" fill="#000" letter-spacing="0.2">10</text>
<rect x="171.5" y="56.4" width="23.1" height="12.6" fill="#ffd9d9"/>
<text x="174.0" y="66.5" font-size="14" fill="#000" letter-spacing="0.2">2.5</text>
<rect x="207.0" y="66.8" width="23.1" height="12.6" fill="#ffd9d9"/>
<text x="209.5" y="76.9" font-size="14" fill="#000" letter-spacing="0.2">1.0</text>
<rect x="278.0" y="71.9" width="23.1" height="12.6" fill="#ffd9d9"/>
<text x="280.5" y="82.0" font-size="14" fill="#000" letter-spacing="0.2">0.5</text>
<rect x="73.0" y="119.9" width="23.1" height="12.6" fill="#fff"/>
<text x="75.5" y="130.0" font-size="14" fill="#000" letter-spacing="0.2">0.1</text>
<rect x="108.8" y="130.9" width="23.1" height="12.6" fill="#fff"/>
<text x="111.3" y="141.0" font-size="14" fill="#000" letter-spacing="0.2">0.3</text>
<rect x="149.5" y="142.9" width="23.1" height="12.6" fill="#fff"/>
<text x="152.0" y="153.0" font-size="14" fill="#000" letter-spacing="0.2">0.5</text>
<rect x="242.5" y="171.1" width="23.1" height="12.6" fill="#fff"/>
<text x="245.0" y="181.2" font-size="14" fill="#000" letter-spacing="0.2">0.8</text>
<rect x="322.8" y="187.9" width="23.1" height="12.6" fill="#fff"/>
<text x="325.3" y="198.0" font-size="14" fill="#000" letter-spacing="0.2">0.9</text>
<rect x="350.0" y="68.5" width="18.3" height="15.5" fill="#ffd9d9"/>
<text x="352.7" y="81.5" font-size="14" fill="#0000ff" letter-spacing="0.2">10</text>
<rect x="339.8" y="102.9" width="13.0" height="12.6" fill="#ffd9d9"/>
<text x="342.3" y="113.0" font-size="14" fill="#0000ff" letter-spacing="0.2" font-style="italic">π</text>
<rect x="337.5" y="161.1" width="12.2" height="12.6" fill="#fff"/>
<text x="340.0" y="171.2" font-size="14" fill="#0000ff" letter-spacing="0.2">1</text>
<rect x="331.8" y="208.3" width="23.1" height="12.6" fill="#fff"/>
<text x="334.3" y="218.4" font-size="14" fill="#0000ff" letter-spacing="0.2">0.3</text>
<rect x="331.7" y="255.9" width="23.1" height="12.6" fill="#fff"/>
<text x="334.2" y="266.0" font-size="14" fill="#0000ff" letter-spacing="0.2">0.1</text>
<rect x="327.9" y="302.9" width="30.3" height="12.6" fill="#fff"/>
<text x="330.4" y="313.0" font-size="14" fill="#0000ff" letter-spacing="0.2">0.03</text>
<rect x="140.5" y="302.9" width="30.3" height="12.6" fill="#fff"/>
<text x="143.0" y="313.0" font-size="14" fill="#0000ff" letter-spacing="0.2">0.01</text>
<g fill="none">
<path d="M57.50 7.00V328.80" stroke="#808080" stroke-width="1"/>
<path d="M57.00 328.30H379.50" stroke="#989898" stroke-width="1"/>
<path d="M57.00 7.50H379.50" stroke="#808080" stroke-opacity="0.55" stroke-width="1"/>
<path d="M379.00 7.00V328.80" stroke="#808080" stroke-opacity="0.55" stroke-width="1"/>
<path d="M75.36 328.50v-2.5M75.36 7.50v2.5M111.08 328.50v-2.5M111.08 7.50v2.5M128.94 328.50v-2.5M128.94 7.50v2.5M146.81 328.50v-2.5M146.81 7.50v2.5M164.67 328.50v-2.5M164.67 7.50v2.5M200.39 328.50v-2.5M200.39 7.50v2.5M218.25 328.50v-2.5M218.25 7.50v2.5M236.11 328.50v-2.5M236.11 7.50v2.5M253.97 328.50v-2.5M253.97 7.50v2.5M289.69 328.50v-2.5M289.69 7.50v2.5M307.56 328.50v-2.5M307.56 7.50v2.5M325.42 328.50v-2.5M325.42 7.50v2.5M343.28 328.50v-2.5M343.28 7.50v2.5M57.50 271.62h2.5M379.00 271.62h-2.5M57.50 238.35h2.5M379.00 238.35h-2.5M57.50 214.75h2.5M379.00 214.75h-2.5M57.50 196.44h2.5M379.00 196.44h-2.5M57.50 181.48h2.5M379.00 181.48h-2.5M57.50 168.83h2.5M379.00 168.83h-2.5M57.50 157.87h2.5M379.00 157.87h-2.5M57.50 148.21h2.5M379.00 148.21h-2.5M57.50 82.69h2.5M379.00 82.69h-2.5M57.50 49.42h2.5M379.00 49.42h-2.5M57.50 25.81h2.5M379.00 25.81h-2.5" stroke="#555" stroke-opacity="0.7" stroke-width="0.6"/>
<path d="M93.22 328.50v-4.0M93.22 7.50v4.0M182.53 328.50v-4.0M182.53 7.50v4.0M271.83 328.50v-4.0M271.83 7.50v4.0M361.14 328.50v-4.0M361.14 7.50v4.0M57.50 139.56h4.0M379.00 139.56h-4.0" stroke="#444" stroke-opacity="0.9" stroke-width="0.8"/>
</g>
<text x="93.5" y="341.7" font-size="14" text-anchor="middle">1000</text>
<text x="182.8" y="341.7" font-size="14" text-anchor="middle">1500</text>
<text x="272.1" y="341.7" font-size="14" text-anchor="middle">2000</text>
<text x="361.4" y="341.7" font-size="14" text-anchor="middle">2500</text>
<text x="36" y="144.3" font-size="14">10<tspan dy="-5.2" dx="0.6" font-size="10">0</tspan></text>
<text x="29.7" y="333.2" font-size="14">10<tspan dy="-4.9" dx="0.6" font-size="10">−1</tspan></text>
<text x="180.5" y="366.3" font-size="18"><tspan font-style="italic">M</tspan><tspan font-style="italic" font-size="14" dy="2.0" dx="0.6">η</tspan><tspan dy="-2.0" dx="1.6" letter-spacing="0.25"> [GeV]</tspan></text>
<text transform="translate(15.5,176.5) rotate(-90)" font-size="19"><tspan font-style="italic">a</tspan><tspan font-style="italic" font-size="12.5" dy="3" dx="0.5">η</tspan></text>
</svg>
</body></html>
